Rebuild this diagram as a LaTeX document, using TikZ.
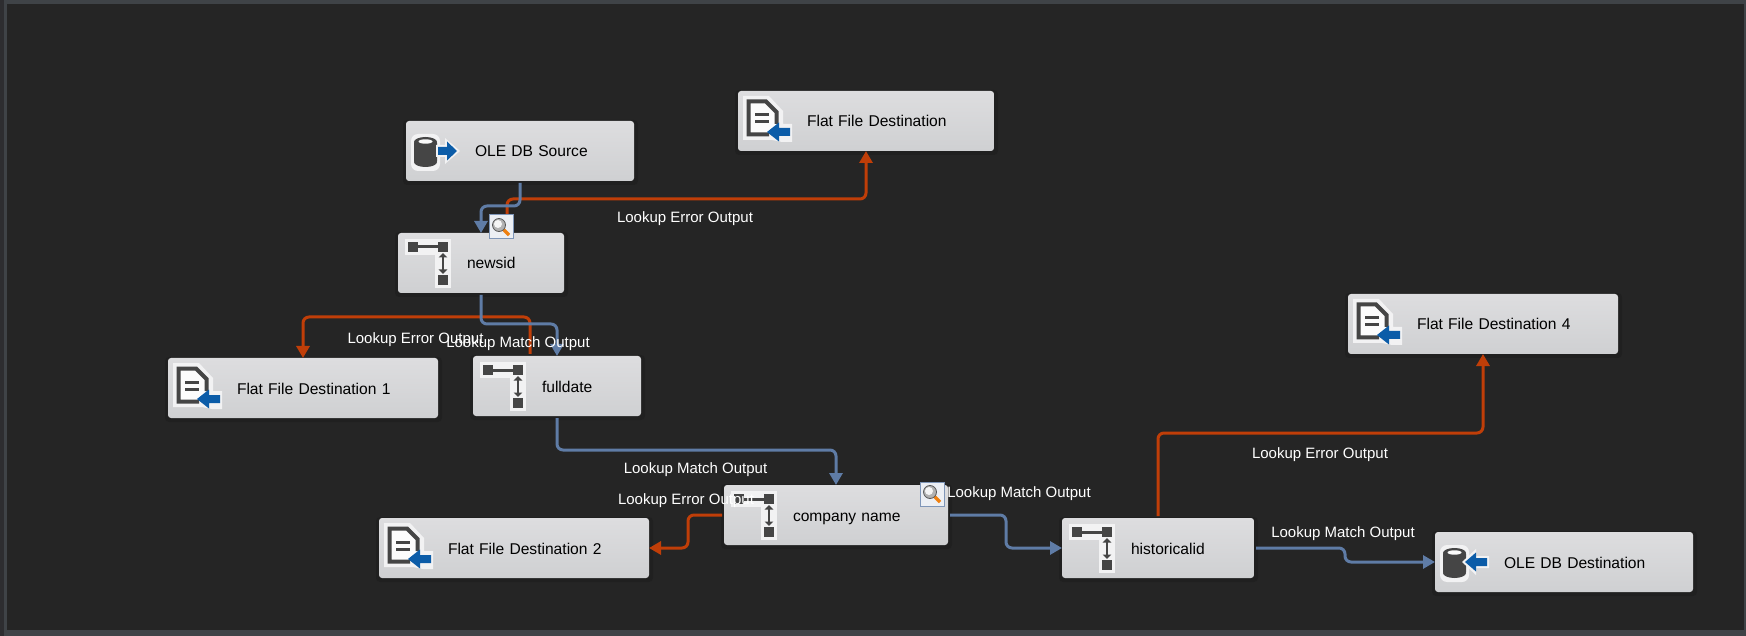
\documentclass[tikz,border=0pt]{standalone}
\usepackage{fontspec}
\setmainfont{Liberation Sans}
\usetikzlibrary{arrows.meta}
\definecolor{canvas}{HTML}{252525}
\definecolor{frameband}{HTML}{3F4347}
\definecolor{frameleft}{HTML}{2D2D30}
\definecolor{flowblue}{HTML}{5F7CA6}
\definecolor{flowred}{HTML}{C03E08}
\definecolor{icondark}{HTML}{454545}
\definecolor{iconblue}{HTML}{0B5CA8}
\definecolor{halo}{HTML}{F2F2F3}
\definecolor{boxtop}{HTML}{DDDDDF}
\definecolor{boxbot}{HTML}{CFD0D2}
\tikzset{
  x=1pt,y=-1pt,
  boxnode/.style={rounded corners=3pt,top color=boxtop,bottom color=boxbot,
    minimum height=60pt,inner sep=0pt,outer sep=0pt,anchor=north west,align=left,
    text=black,font=\fontsize{15.6}{18}\selectfont,text height=13pt,text depth=1pt},
  bluelink/.style={draw=flowblue,line width=3pt,rounded corners=6pt,-{Triangle[length=12pt,width=13pt]}},
  redlink/.style={draw=flowred,line width=3pt,rounded corners=6pt,-{Triangle[length=12pt,width=13pt]}},
  flowlabel/.style={text=white,font=\fontsize{15}{18}\selectfont,inner sep=0pt}
}
\newcommand\flowbox[5]{% name, x, y, width, text
  \fill[black,opacity=.12,rounded corners=4pt] (#2-3,#3-1) rectangle (#2+#4+4,#3+64);
  \node[boxnode,text width=#4pt] (#1) at (#2,#3) {\hspace*{69pt}#5};}
\newcommand\lookupglyph[1]{%
  \begin{scope}[shift={(#1.north west)}]
    \fill[halo] (7,6) rectangle (53,22);
    \fill[halo] (37,22) rectangle (53,55);
    \fill[icondark] (10,9) rectangle (20,19);
    \fill[icondark] (40,9) rectangle (50,19);
    \fill[icondark] (40,42) rectangle (50,52);
    \draw[icondark,line width=3pt] (20,14) -- (40,14);
    \draw[icondark,line width=2.6pt,{Triangle[length=4.5pt,width=8.5pt]}-{Triangle[length=4.5pt,width=8.5pt]}] (45,20) -- (45,41);
  \end{scope}}
\newcommand\fileglyph[1]{%
  \begin{scope}[shift={(#1.north west)}]
    \fill[halo] (5,5) -- (31,5) -- (45,20) -- (45,33) -- (54,33) -- (54,51) -- (44,51) -- (34,49) -- (5,49) -- cycle;
    \draw[icondark,line width=4pt,fill=white!90!boxtop,line join=miter] (31,43.5) -- (10.5,43.5) -- (10.5,10.5) -- (28,10.5) -- (38.5,21) -- (38.5,33);
    \draw[icondark,line width=3pt] (17,24) -- (31,24) (17,31) -- (31,31);
    \fill[iconblue] (29,41) -- (41,31.5) -- (41,37) -- (52,37) -- (52,45) -- (41,45) -- (41,50.5) -- cycle;
  \end{scope}}
\newcommand\dbbody[1]{% left edge of the cylinder
  \fill[halo,rounded corners=7pt] (#1-3,13) rectangle (#1+26,50);
  \fill[icondark,rounded corners=1pt] (#1,21) rectangle (#1+23,41);
  \fill[icondark] (#1+11.5,41) ellipse[x radius=11.5,y radius=5];
  \fill[icondark] (#1+11.5,21) ellipse[x radius=11.5,y radius=5];
  \fill[white!85!boxtop] (#1+11.5,20.5) ellipse[x radius=7,y radius=2.2];
}
\newcommand\dbsourceglyph[1]{%
  \begin{scope}[shift={(#1.north west)}]
    \dbbody{8}
    \fill[halo] (30,24) -- (39,24) -- (39,17) -- (54,30) -- (39,43) -- (39,36) -- (30,36) -- cycle;
    \fill[iconblue] (32,26) -- (41,26) -- (41,20.5) -- (51,30) -- (41,39.5) -- (41,34) -- (32,34) -- cycle;
  \end{scope}}
\newcommand\dbdestglyph[1]{%
  \begin{scope}[shift={(#1.north west)}]
    \dbbody{8}
    \fill[halo] (27,30) -- (41,17) -- (41,24) -- (54,24) -- (54,36) -- (41,36) -- (41,43) -- cycle;
    \fill[iconblue] (30,30) -- (41,20.5) -- (41,26) -- (52,26) -- (52,34) -- (41,34) -- (41,39.5) -- cycle;
  \end{scope}}
\newcommand\magglyph[2]{%
  \begin{scope}[shift={(#1,#2)}]
    \fill[white!88!flowblue,draw=flowblue!80!white,line width=1pt] (0,0) rectangle (24,24);
    \draw[orange!75!brown,line width=3.5pt] (14,14) -- (20,20);
    \fill[gray!60!white,draw=gray!70!black,line width=.8pt] (10,10) circle[radius=6.5];
    \fill[white!92!gray] (9,9) circle[radius=4];
  \end{scope}}
\begin{document}
\begin{tikzpicture}
  \useasboundingbox (0,0) rectangle (1746,636);
  \fill[frameband] (0,0) rectangle (1746,636);
  \fill[frameleft] (0,0) rectangle (4,636);
  \fill[canvas] (7,4) rectangle (1744,630);

  \flowbox{ole}{406}{121}{228}{OLE DB Source}
  \flowbox{ffd}{738}{91}{256}{Flat File Destination}
  \flowbox{newsid}{398}{233}{166}{newsid}
  \flowbox{ffda}{168}{358}{270}{Flat File Destination 1}
  \flowbox{fulldate}{473}{356}{168}{fulldate}
  \flowbox{company}{724}{485}{224}{company name}
  \flowbox{ffdb}{379}{518}{270}{Flat File Destination 2}
  \flowbox{hist}{1062}{518}{192}{historicalid}
  \flowbox{ffdd}{1348}{294}{270}{Flat File Destination 4}
  \flowbox{oledest}{1435}{532}{258}{OLE DB Destination}

  % error outputs
  \draw[redlink] ([xshift=26pt]newsid.north) -- ++(0,-34) -| (ffd.south);
  \draw[redlink] ([xshift=-27pt,yshift=2pt]fulldate.north) -- ++(0,-37) -| (ffda.north);
  \draw[redlink] ([xshift=-2pt]company.west) -- ++(-34,0) |- (ffdb.east);
  \draw[redlink] ([yshift=2pt]hist.north) -- ++(0,-83) -| (ffdd.south);
  % match outputs
  \draw[bluelink] ([yshift=-2pt]ole.south) -- ++(0,23) -| (newsid.north);
  \draw[bluelink] ([yshift=-2pt]newsid.south) -- ++(0,29) -| (fulldate.north);
  \draw[bluelink] ([yshift=-2pt]fulldate.south) -- ++(0,32) -| (company.north);
  \draw[bluelink] ([xshift=2pt]company.east) -- ++(56,0) |- (hist.west);
  \draw[bluelink] ([xshift=2pt]hist.east) -- ++(89,0) |- (oledest.west);

  \dbsourceglyph{ole}
  \dbdestglyph{oledest}
  \fileglyph{ffd}
  \fileglyph{ffda}
  \fileglyph{ffdb}
  \fileglyph{ffdd}
  \lookupglyph{newsid}
  \lookupglyph{fulldate}
  \lookupglyph{company}
  \lookupglyph{hist}
  \magglyph{489}{215}
  \magglyph{920}{482}

  \node[flowlabel] (l1) at (685,219) {Lookup Error Output};
  \node[flowlabel] (l2) at (415.5,340) {Lookup Error Output};
  \node[flowlabel] (l3) at (518,344) {Lookup Match Output};
  \node[flowlabel] (l4) at (695.5,470) {Lookup Match Output};
  \node[flowlabel] (l5) at (686,501) {Lookup Error Output};
  \node[flowlabel] (l6) at (1019,494) {Lookup Match Output};
  \node[flowlabel] (l7) at (1320,455) {Lookup Error Output};
  \node[flowlabel] (l8) at (1343,534) {Lookup Match Output};
\end{tikzpicture}
\end{document}
